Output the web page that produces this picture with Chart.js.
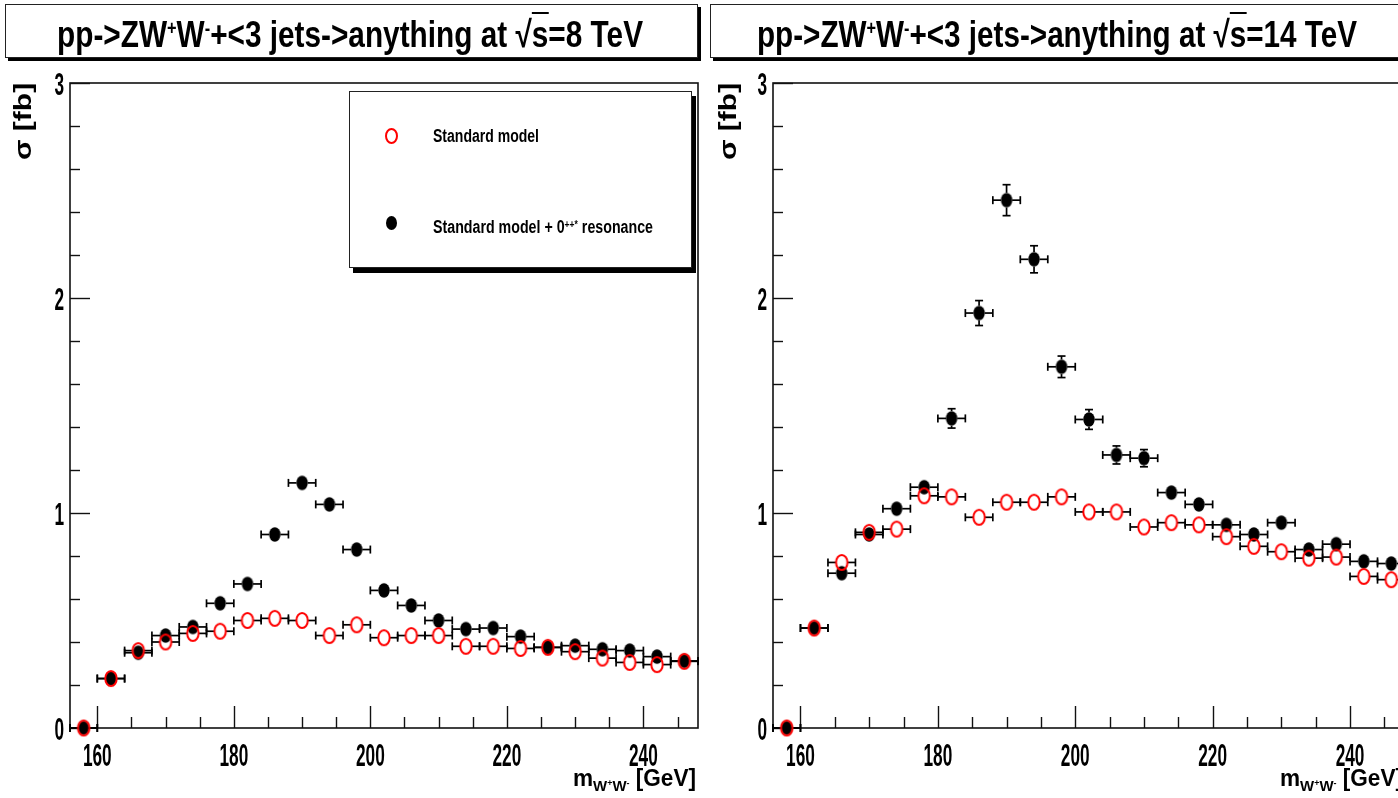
<!DOCTYPE html>
<html>
<head>
<meta charset="utf-8">
<title>pp->ZW+W- resonance</title>
<script src="https://cdn.jsdelivr.net/npm/chart.js@4.4.1/dist/chart.umd.min.js"></script>
<style>
html,body{margin:0;padding:0;background:#fff;}
body{width:1398px;height:798px;overflow:hidden;position:relative;font-family:"Liberation Sans Narrow","Liberation Sans",Arial,sans-serif;}
canvas{position:absolute;top:0;}
.tbox{position:absolute;top:4px;height:54px;box-sizing:border-box;border:1.5px solid #222;background:#fff;box-shadow:3px 3px 0 #000;}
.fit{position:absolute;white-space:nowrap;transform-origin:0 0;font-weight:bold;color:#000;line-height:1;}
.sup{position:relative;top:-0.45em;font-size:0.6em;}
.tsup{position:relative;top:-0.6em;font-size:0.55em;}
.sub{position:relative;top:0.32em;font-size:0.66em;}
.ss{position:relative;top:-0.5em;font-size:0.6em;}
.rt{border-top:2px solid #000;}
.legend{position:absolute;left:349px;top:91px;width:343px;height:177px;box-sizing:border-box;border:1.5px solid #222;background:#fff;box-shadow:4px 5px 0 #000;}
.mk{position:absolute;border-radius:50%;box-sizing:border-box;}
</style>
</head>
<body>
<canvas id="c8" width="700" height="798" style="left:0"></canvas>
<canvas id="c14" width="720" height="798" style="left:700px"></canvas>

<div class="tbox" style="left:5px;width:693px"></div>
<div class="tbox" style="left:710px;width:694px"></div>
<div class="fit" id="t8" data-w="586" style="left:57px;top:16px;font-size:37px">pp-&gt;ZW<span class="tsup">+</span>W<span class="tsup">-</span>+&lt;3 jets-&gt;anything at √<span class="rt">s</span>=8 TeV</div>
<div class="fit" id="t14" data-w="600" style="left:757px;top:16px;font-size:37px">pp-&gt;ZW<span class="tsup">+</span>W<span class="tsup">-</span>+&lt;3 jets-&gt;anything at √<span class="rt">s</span>=14 TeV</div>

<div class="legend"></div>
<div class="mk" style="left:385px;top:128px;width:13px;height:16px;border:2px solid #ff0000;"></div>
<div class="mk" style="left:386px;top:216px;width:11px;height:14px;background:#000;"></div>
<div class="fit" id="lg1" data-w="106" style="left:433px;top:127px;font-size:18px"></div>
<div class="fit" id="lg2" data-w="220" style="left:433px;top:218px;font-size:18px"></div>

<div class="fit" id="xt8" data-w="123" style="left:573px;top:767px;font-size:23px">m<span class="sub">W<span class="ss">+</span>W<span class="ss">-</span></span> [GeV]</div>
<div class="fit" id="xt14" data-w="123" style="left:1280px;top:767px;font-size:23px">m<span class="sub">W<span class="ss">+</span>W<span class="ss">-</span></span> [GeV]</div>
<div class="fit rot" id="yt8" style="left:0;top:0;font-size:23px">σ [fb]</div>
<div class="fit rot" id="yt14" style="left:0;top:0;font-size:23px">σ [fb]</div>

<script>
// ---------------- data ----------------
const massBins = [158, 162, 166, 170, 174, 178, 182, 186, 190, 194, 198, 202, 206, 210, 214, 218, 222, 226, 230, 234, 238, 242, 246];
const binHalfWidth = 2;

// sqrt(s) = 8 TeV
const sm8     = [0, 0.23, 0.36, 0.40, 0.44, 0.45, 0.50, 0.51, 0.50, 0.43, 0.48, 0.42, 0.43, 0.43, 0.38, 0.38, 0.37, 0.375, 0.355, 0.325, 0.305, 0.295, 0.31];
const smErr8  = [0, 0.010, 0.012, 0.013, 0.013, 0.013, 0.014, 0.014, 0.014, 0.013, 0.014, 0.013, 0.013, 0.013, 0.012, 0.012, 0.012, 0.012, 0.012, 0.011, 0.011, 0.011, 0.011];
const res8    = [0, 0.23, 0.35, 0.43, 0.47, 0.58, 0.67, 0.90, 1.14, 1.04, 0.83, 0.64, 0.57, 0.50, 0.46, 0.465, 0.425, 0.375, 0.383, 0.366, 0.36, 0.332, 0.312];
const resErr8 = [0, 0.010, 0.012, 0.013, 0.014, 0.015, 0.016, 0.019, 0.021, 0.020, 0.018, 0.016, 0.015, 0.014, 0.013, 0.013, 0.013, 0.012, 0.012, 0.012, 0.012, 0.011, 0.011];

// sqrt(s) = 14 TeV
const sm14     = [0, 0.465, 0.77, 0.91, 0.925, 1.08, 1.075, 0.98, 1.05, 1.05, 1.075, 1.005, 1.005, 0.935, 0.955, 0.945, 0.89, 0.845, 0.82, 0.79, 0.795, 0.705, 0.69];
const smErr14  = [0, 0.020, 0.025, 0.028, 0.028, 0.030, 0.030, 0.029, 0.030, 0.030, 0.030, 0.029, 0.029, 0.028, 0.028, 0.028, 0.027, 0.026, 0.026, 0.025, 0.025, 0.024, 0.024];
const res14    = [0, 0.465, 0.72, 0.90, 1.02, 1.12, 1.44, 1.93, 2.455, 2.18, 1.68, 1.435, 1.27, 1.255, 1.095, 1.04, 0.945, 0.90, 0.955, 0.83, 0.855, 0.775, 0.765];
const resErr14 = [0, 0.020, 0.025, 0.028, 0.030, 0.032, 0.045, 0.058, 0.072, 0.063, 0.050, 0.046, 0.042, 0.040, 0.035, 0.034, 0.030, 0.030, 0.031, 0.028, 0.028, 0.027, 0.026];

const xTickValues = [160, 180, 200, 220, 240];
const xTickLabels = ['160', '180', '200', '220', '240'];
const yTickValues = [0, 1, 2, 3];
const yTickLabels = ['0', '1', '2', '3'];
const seriesLabels = ['Standard model', 'Standard model + 0++* resonance'];
const xRange = [156, 248];
const yRange = [0, 3];

// ---------------- text ----------------
document.getElementById('lg1').textContent = seriesLabels[0];
document.getElementById('lg2').innerHTML = 'Standard model + 0<span class="sup">++*</span> resonance';

function fitText() {
  document.querySelectorAll('.fit[data-w]').forEach(el => {
    const w = el.getBoundingClientRect().width;
    el.style.transform = 'scaleX(' + (parseFloat(el.dataset.w) / w) + ')';
  });
  function rot(el, x, yBottom, len) {
    const w = el.offsetWidth;
    el.style.transform = 'translate(' + x + 'px,' + yBottom + 'px) rotate(-90deg) scale(' + (len / w) + ',1)';
  }
  rot(document.getElementById('yt8'), 12, 160, 77);
  rot(document.getElementById('yt14'), 717, 160, 77);
}
fitText();

// ---------------- markers ----------------
function ellipseImg(kind) {
  const c = document.createElement('canvas');
  c.width = 16; c.height = 19;
  const g = c.getContext('2d');
  g.beginPath();
  g.ellipse(8, 9.5, 5.7, kind === 'open' ? 7.5 : 7.3, 0, 0, Math.PI * 2);
  if (kind === 'open') { g.strokeStyle = '#ff0000'; g.lineWidth = 2; g.stroke(); }
  else { g.fillStyle = '#000'; g.fill(); }
  return c;
}
const openMarker = ellipseImg('open');
const fullMarker = ellipseImg('full');
const MRX = 5.6, MRY = 7.3;

// ---------------- ROOT-like drawing plugin ----------------
const LABEL_FONT = 'bold 32px "Liberation Sans Narrow","Liberation Sans",Arial,sans-serif';
function drawLabel(ctx, text, x, y, align, digitW) {
  ctx.font = LABEL_FONT;
  const m = ctx.measureText(text).width;
  const sx = digitW * text.length / m;
  ctx.save();
  ctx.translate(x, y);
  ctx.scale(sx, 1);
  ctx.textAlign = align;
  ctx.textBaseline = 'alphabetic';
  ctx.fillStyle = '#000';
  ctx.fillText(text, 0, 0);
  ctx.restore();
}

const rootPlugin = {
  id: 'rootStyle',
  beforeDatasetsDraw(chart) {
    const { ctx, chartArea: a, scales: { x, y } } = chart;
    ctx.save();
    // frame
    ctx.strokeStyle = '#111';
    ctx.lineWidth = 1.6;
    ctx.strokeRect(a.left, a.top, a.right - a.left, a.bottom - a.top);
    // x ticks (inward)
    ctx.lineWidth = 1.4;
    for (let v = 160; v <= xRange[1]; v += 5) {
      const px = Math.round(x.getPixelForValue(v)) + 0.5;
      const len = xTickValues.includes(v) ? 22 : 11;
      ctx.beginPath(); ctx.moveTo(px, a.bottom); ctx.lineTo(px, a.bottom - len); ctx.stroke();
    }
    // y ticks (inward)
    for (let i = 0; i <= 15; i++) {
      const v = i * 0.2;
      const py = Math.round(y.getPixelForValue(v)) + 0.5;
      const len = i % 5 === 0 ? 20 : 10;
      ctx.beginPath(); ctx.moveTo(a.left, py); ctx.lineTo(a.left + len, py); ctx.stroke();
    }
    // error bars (gap around the marker, ROOT style)
    ctx.strokeStyle = '#000';
    ctx.lineWidth = 1.7;
    const seg = (x1, y1, x2, y2) => { ctx.beginPath(); ctx.moveTo(x1, y1); ctx.lineTo(x2, y2); ctx.stroke(); };
    chart.data.datasets.forEach(ds => {
      ds.data.forEach((p, i) => {
        const cx = x.getPixelForValue(p.x), cy = y.getPixelForValue(p.y);
        const xl = x.getPixelForValue(p.x - binHalfWidth), xr = x.getPixelForValue(p.x + binHalfWidth);
        seg(xl, cy, cx - MRX, cy); seg(cx + MRX, cy, xr, cy);
        seg(xl, cy - 4, xl, cy + 4); seg(xr, cy - 4, xr, cy + 4);
        const e = ds.err[i];
        const yt = y.getPixelForValue(p.y + e), yb = y.getPixelForValue(p.y - e);
        if (cy - yt > MRY + 0.5) {
          seg(cx, yt, cx, cy - MRY); seg(cx, cy + MRY, cx, yb);
          seg(cx - 4, yt, cx + 4, yt); seg(cx - 4, yb, cx + 4, yb);
        }
      });
    });
    ctx.restore();
  },
  afterDraw(chart) {
    const { ctx, chartArea: a, scales: { x, y } } = chart;
    xTickValues.forEach((v, i) => drawLabel(ctx, xTickLabels[i], x.getPixelForValue(v), 766, 'center', 9.6));
    yTickValues.forEach((v, i) => drawLabel(ctx, yTickLabels[i], a.left - 6, y.getPixelForValue(v) + 11.5, 'right', 9.6));
  }
};

function makeChart(id, sm, smErr, res, resErr, padLeft, padRight) {
  return new Chart(document.getElementById(id), {
    type: 'scatter',
    data: {
      datasets: [
        { label: seriesLabels[0], data: massBins.map((m, i) => ({ x: m, y: sm[i] })), err: smErr,
          pointStyle: openMarker, pointRadius: 6, clip: false, order: 0 },
        { label: seriesLabels[1], data: massBins.map((m, i) => ({ x: m, y: res[i] })), err: resErr,
          pointStyle: fullMarker, pointRadius: 6, clip: false, order: 1 }
      ]
    },
    options: {
      responsive: false,
      animation: false,
      events: [],
      layout: { autoPadding: false, padding: { left: padLeft, right: padRight, top: 83, bottom: 70 } },
      plugins: { legend: { display: false }, tooltip: { enabled: false } },
      scales: {
        x: { type: 'linear', display: false, min: xRange[0], max: xRange[1],
             afterBuildTicks: s => { s.ticks = xTickValues.map(v => ({ value: v })); } },
        y: { type: 'linear', display: false, min: yRange[0], max: yRange[1],
             afterBuildTicks: s => { s.ticks = yTickValues.map(v => ({ value: v })); } }
      }
    },
    plugins: [rootPlugin]
  });
}

makeChart('c8', sm8, smErr8, res8, resErr8, 70, 2);
makeChart('c14', sm14, smErr14, res14, resErr14, 73, 15);
</script>
</body>
</html>
